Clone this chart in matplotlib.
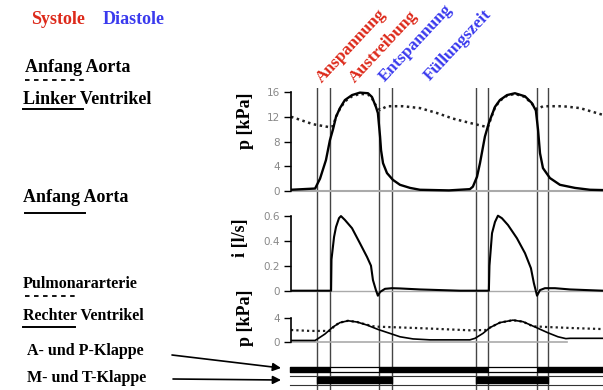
import numpy as np
import matplotlib.pyplot as plt

plt.rcParams['font.family'] = ['DejaVu Sans']
SERIF = ['Liberation Serif', 'DejaVu Serif']
RED = '#dd2a1b'
BLUE = '#3a3aee'

# time in ms (0 = left axis line), two heart cycles
events = [130, 197, 445, 510, 937, 1000, 1245, 1300]

# left ventricle pressure [kPa]
t_lv = [0, 122, 147, 177, 197, 213, 228, 248, 273, 309, 349, 390, 410, 430, 440,
        451, 456, 466, 486, 516, 552, 603, 653, 800, 906, 921, 942, 957, 982,
        1002, 1033, 1058, 1094, 1134, 1185, 1220, 1240, 1251, 1261, 1276, 1311,
        1362, 1438, 1514, 1580]
p_lv = [0.2, 0.4, 2.0, 5.0, 8.2, 10.0, 12.0, 13.4, 14.7, 15.5, 15.9, 15.8, 15.2,
        13.6, 12.6, 8.8, 6.6, 4.5, 2.9, 1.8, 1.0, 0.5, 0.2, 0.1, 0.3, 0.7, 2.3,
        4.5, 8.8, 11.0, 13.6, 14.7, 15.5, 15.8, 15.3, 14.2, 13.0, 9.9, 6.1, 3.7,
        2.1, 1.0, 0.5, 0.2, 0.15]

# aorta pressure [kPa]
t_ao = [0, 111, 197, 213, 228, 248, 273, 309, 349, 390, 410, 430, 451, 486, 567,
        653, 739, 820, 906, 997, 1013, 1033, 1058, 1094, 1134, 1185, 1220, 1246,
        1276, 1377, 1463, 1580]
p_ao = [12.0, 10.8, 10.3, 10.5, 12.0, 13.3, 14.5, 15.3, 15.7, 15.6, 15.0, 13.8,
        13.1, 13.7, 13.7, 13.4, 12.6, 11.7, 11.0, 10.3, 11.8, 13.5, 14.6, 15.4,
        15.7, 15.2, 14.1, 13.2, 13.7, 13.7, 13.4, 12.3]

# aortic flow [l/s]
t_flow = [0, 203, 205, 218, 228, 243, 253, 273, 309, 349, 385, 405, 415, 430, 440,
          451, 476, 511, 552, 653, 754, 856, 1002, 1005, 1018, 1033, 1048, 1068,
          1099, 1144, 1185, 1215, 1230, 1246, 1261, 1286, 1337, 1413, 1580]
i_flow = [0, 0, 0.25, 0.43, 0.51, 0.58, 0.597, 0.566, 0.5, 0.38, 0.27, 0.2, 0.085,
          0.005, -0.04, -0.01, 0.015, 0.02, 0.018, 0.01, 0.005, 0, 0, 0.2, 0.46,
          0.55, 0.6, 0.58, 0.525, 0.42, 0.30, 0.18, 0.06, -0.04, 0.005, 0.02, 0.02,
          0.01, 0]

# right ventricle pressure [kPa]
t_rv = [0, 122, 132, 172, 213, 248, 289, 334, 385, 440, 501, 552, 618, 704, 906,
        932, 972, 1008, 1058, 1124, 1175, 1235, 1301, 1352, 1392, 1413, 1580]
p_rv = [0.3, 0.3, 0.5, 1.35, 2.5, 3.2, 3.5, 3.3, 2.8, 2.1, 1.45, 0.9, 0.55, 0.4,
        0.4, 0.65, 1.45, 2.4, 3.2, 3.6, 3.35, 2.5, 1.55, 0.9, 0.6, 0.65, 0.65]

# pulmonary artery pressure [kPa]
t_pa = [0, 96, 197, 223, 248, 289, 334, 385, 425, 476, 653, 906, 987, 1008, 1058,
        1124, 1175, 1225, 1286, 1438, 1580]
p_pa = [2.0, 1.85, 1.85, 2.75, 3.2, 3.5, 3.3, 2.85, 2.55, 2.5, 2.3, 1.95, 2.0, 2.4,
        3.2, 3.6, 3.35, 2.6, 2.5, 2.3, 2.15]

# valve states (start, end) in ms
ap_closed = [(-5, 197), (445, 1000), (1245, 1580)]
ap_open = [(197, 445), (1000, 1245)]
mt_closed = [(130, 510), (937, 1300)]

W, H = 603, 390
X0, X1 = 291, 603
fig = plt.figure(figsize=(W / 100, H / 100), dpi=100)


def panel(y_top, y_bot):
    a = fig.add_axes([X0 / W, 1 - y_bot / H, (X1 - X0) / W, (y_bot - y_top) / H])
    a.set_facecolor('none')
    a.set_xlim(0, 1580)
    return a


def style(a, ticks, labels, lo, hi):
    for s in ['top', 'right', 'bottom']:
        a.spines[s].set_visible(False)
    a.spines['left'].set_bounds(lo, hi)
    a.spines['left'].set_linewidth(1.2)
    a.set_xticks([])
    a.set_yticks(ticks)
    a.set_yticklabels(labels)
    a.tick_params(axis='y', length=5, width=1.0, pad=3, labelsize=7.5,
                  labelcolor='#888888')


# vertical event lines across all panels
ax_v = fig.add_axes([X0 / W, 0, (X1 - X0) / W, (H - 88) / H])
ax_v.set_facecolor('none')
ax_v.set_xlim(0, 1580)
ax_v.set_ylim(0, 1)
ax_v.axis('off')
for e in events:
    ax_v.axvline(e, color='#444444', lw=1.0)

# top: left heart pressures
ax1 = panel(88.9, 194.1)
ax1.set_ylim(-0.5, 16.5)
ax1.axhline(0, color='#aaaaaa', lw=1.5)
ax1.plot(t_ao, p_ao, color='#222222', lw=1.8, ls=(0, (1, 1.4)))
ax1.plot(t_lv, p_lv, color='black', lw=1.7)
style(ax1, [0, 4, 8, 12, 16], ['0', '4', '8', '12', '16'], 0, 16)

# middle: flow
ax2 = panel(210.7, 298.2)
ax2.set_ylim(-0.06, 0.64)
ax2.axhline(0, color='#aaaaaa', lw=1.0)
ax2.plot(t_flow, i_flow, color='black', lw=1.5)
style(ax2, [0, 0.2, 0.4, 0.6], ['0', '0.2', '0.4', '0.6'], 0, 0.6)

# bottom: right heart pressures
ax3 = panel(314.6, 345.4)
ax3.set_ylim(-0.5, 4.5)
ax3.plot([0, 1397], [0, 0], color='#aaaaaa', lw=1.2)
ax3.plot(t_pa, p_pa, color='#222222', lw=1.6, ls=(0, (1, 1.4)))
ax3.plot(t_rv, p_rv, color='black', lw=1.2)
style(ax3, [0, 4], ['0', '4'], 0, 4)

# valve bars
ax4 = panel(360, 390)
ax4.set_ylim(30, 0)
ax4.axis('off')
ax4.broken_barh([(a, b - a) for a, b in ap_closed], (6.7, 5.6), color='black',
                clip_on=False)
ax4.broken_barh([(a, b - a) for a, b in ap_open], (7.2, 4.6), facecolor='white',
                edgecolor='black', lw=0.9)
ax4.broken_barh([(a, b - a) for a, b in mt_closed], (17.3, 6.0), color='black')
ax4.plot([-5, 1580], [15.7, 15.7], color='#333333', lw=0.8, clip_on=False)
ax4.plot([-5, 1580], [24.5, 24.5], color='#333333', lw=0.8, clip_on=False)

# text layer in pixel coordinates
ax_t = fig.add_axes([0, 0, 1, 1])
ax_t.set_facecolor('none')
ax_t.set_xlim(0, W)
ax_t.set_ylim(H, 0)
ax_t.axis('off')

tk = dict(family=SERIF, weight='bold', va='baseline', ha='left')
ax_t.text(31, 24, 'Systole', color=RED, fontsize=13, **tk)
ax_t.text(103, 24, 'Diastole', color=BLUE, fontsize=13, **tk)
ax_t.text(25, 72, 'Anfang Aorta', fontsize=13, **tk)
ax_t.plot([25, 85], [80, 80], color='black', lw=1.3, ls=(0, (2.5, 2.5)))
ax_t.text(23, 104, 'Linker Ventrikel', fontsize=13, **tk)
ax_t.plot([23, 83], [109, 109], color='black', lw=1.4)
ax_t.text(23, 202, 'Anfang Aorta', fontsize=13, **tk)
ax_t.plot([25, 85], [213, 213], color='black', lw=1.4)
ax_t.text(23, 288, 'Pulmonararterie', fontsize=11.5, **tk)
ax_t.plot([25, 77], [296, 296], color='black', lw=1.3, ls=(0, (2.5, 2.5)))
ax_t.text(23, 320, 'Rechter Ventrikel', fontsize=11.5, **tk)
ax_t.plot([23, 75], [327, 327], color='black', lw=1.4)
ax_t.text(27, 355, 'A- und P-Klappe', fontsize=11.5, **tk)
ax_t.text(27, 382, 'M- und T-Klappe', fontsize=11.5, **tk)

arrow = dict(arrowstyle='-|>', color='black', lw=1.2, mutation_scale=12,
             shrinkA=0, shrinkB=0)
ax_t.annotate('', xy=(281, 368), xytext=(172, 355), arrowprops=arrow)
ax_t.annotate('', xy=(281, 380), xytext=(173, 379), arrowprops=arrow)

yl = dict(family=SERIF, weight='bold', rotation=90, ha='center', va='center',
          fontsize=13)
ax_t.text(245, 121, 'p [kPa]', **yl)
ax_t.text(240, 238, 'i [l/s]', **yl)
ax_t.text(245, 318, 'p [kPa]', **yl)

ph = dict(family=SERIF, weight='bold', rotation=47, rotation_mode='anchor',
          ha='left', va='baseline', fontsize=12.5)
ax_t.text(322, 83, 'Anspannung', color=RED, **ph)
ax_t.text(355, 83, 'Austreibung', color=RED, **ph)
ax_t.text(385, 82, 'Entspannung', color=BLUE, **ph)
ax_t.text(430, 81, 'Füllungszeit', color=BLUE, **ph)

fig.savefig('out.png', dpi=100)
